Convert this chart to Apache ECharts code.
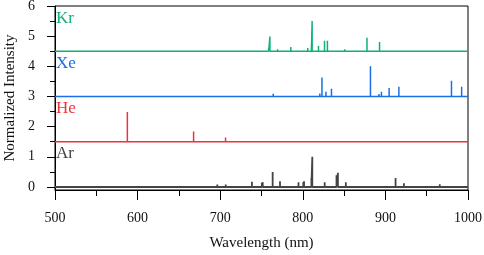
<!DOCTYPE html>
<html>
<head>
<meta charset="utf-8">
<script src="https://cdn.jsdelivr.net/npm/echarts@6/dist/echarts.min.js"></script>
<style>html,body{margin:0;padding:0;background:#fff}#c{width:484px;height:255px}</style>
</head>
<body>
<div id="c"></div>
<script>
const xTicks = [500, 600, 700, 800, 900, 1000];
const yTicks = [0, 1, 2, 3, 4, 5, 6];
const yMinorTicks = [0.5, 1.5, 2.5, 3.5, 4.5, 5.5];

const krOffset = 4.5, xeOffset = 3, heOffset = 1.5, arOffset = 0;

const krLambda = [645, 723, 758.7, 760.2, 769.5, 785.5, 793, 806, 810.4, 811.3, 819.0, 826.3, 829.8, 850.9, 877.7, 892.9, 936, 975.2, 986];
const krHeight = [0.02, 0.02, 0.12, 0.49, 0.07, 0.14, 0.05, 0.11, 0.15, 1.0, 0.17, 0.35, 0.35, 0.07, 0.45, 0.31, 0.02, 0.05, 0.03];

const xeLambda = [688.5, 712.7, 739, 764.2, 788.7, 820.6, 823.2, 828.0, 834.7, 840.9, 881.9, 892.2, 895.2, 904.5, 916.3, 931, 980.0, 992.3];
const xeHeight = [0.02, 0.05, 0.02, 0.09, 0.05, 0.1, 0.63, 0.16, 0.26, 0.04, 1.0, 0.08, 0.16, 0.28, 0.32, 0.02, 0.52, 0.32];

const heLambda = [587.6, 667.8, 706.5, 728.1];
const heHeight = [0.99, 0.34, 0.14, 0.03];

const arLambda = [696.5, 706.7, 727.3, 738.4, 750.4, 751.5, 763.5, 772.4, 794.8, 800.6, 801.5, 810.4, 811.5, 826.5, 840.8, 842.5, 852.1, 866.8, 912.3, 922.4, 935.4, 965.8, 978.5];
const arHeight = [0.08, 0.08, 0.03, 0.17, 0.14, 0.16, 0.5, 0.19, 0.16, 0.16, 0.19, 0.3, 1.0, 0.16, 0.39, 0.47, 0.16, 0.05, 0.3, 0.12, 0.03, 0.09, 0.05];

const gasNames = ['Kr', 'Xe', 'He', 'Ar'];
const labelY = [5.6, 4.1, 2.6, 1.12];

function spectrum(lams, hs, base) {
  const d = [[xTicks[0], base]];
  lams.forEach((l, i) => { d.push([l, base], [l, base + hs[i]], [l, base]); });
  d.push([xTicks[xTicks.length - 1], base]);
  return d;
}

const serif = '"Liberation Serif","Times New Roman",serif';
const colors = {Kr: '#0fb274', Xe: '#1a6ee6', He: '#f0303a', Ar: '#444444'};

function mkSeries(name, lams, hs, base, ly, width) {
  return {
    type: 'line', name: name, data: spectrum(lams, hs, base),
    showSymbol: false, symbol: 'none', animation: false,
    lineStyle: {color: colors[name], width: width},
    markPoint: {
      symbol: 'circle', symbolSize: 0, animation: false,
      data: [{coord: [xTicks[0], ly], name: name}],
      label: {show: true, position: 'right', distance: 1, formatter: '{b}',
        color: colors[name], fontFamily: serif, fontSize: 17}
    }
  };
}

const chart = echarts.init(document.getElementById('c'), null, {renderer: 'canvas'});
chart.setOption({
  animation: false,
  grid: {left: 55, right: 16, top: 6, bottom: 65, show: true, borderColor: '#000', borderWidth: 1,
    containLabel: false, outerBoundsMode: 'none'},
  xAxis: {
    type: 'value', min: xTicks[0], max: xTicks[xTicks.length - 1], interval: 100,
    name: 'Wavelength (nm)', nameLocation: 'middle', nameGap: 46,
    nameTextStyle: {fontFamily: serif, fontSize: 15, color: '#111'},
    axisLine: {show: true, onZero: false, lineStyle: {color: '#000', width: 1}},
    axisTick: {show: true, length: 10, lineStyle: {color: '#000'}},
    minorTick: {show: true, splitNumber: 2, length: 6, lineStyle: {color: '#000'}},
    axisLabel: {fontFamily: serif, fontSize: 14, color: '#111', margin: 21, formatter: v => String(v)},
    splitLine: {show: false}
  },
  yAxis: [{
    type: 'value', min: -0.1, max: 6, position: 'left',
    name: 'Normalized Intensity', nameLocation: 'middle', nameGap: 35,
    nameTextStyle: {fontFamily: serif, fontSize: 15, color: '#111'},
    axisLine: {show: true, lineStyle: {color: '#000', width: 1}},
    axisTick: {show: true, length: 8, customValues: yTicks, lineStyle: {color: '#000'}},
    axisLabel: {show: true, customValues: yTicks, fontFamily: serif, fontSize: 14, color: '#111', margin: 20,
      formatter: v => String(Math.round(v))},
    splitLine: {show: false}
  }, {
    type: 'value', min: -0.1, max: 6, position: 'left',
    axisLine: {show: false},
    axisTick: {show: true, length: 5, customValues: yMinorTicks, lineStyle: {color: '#000'}},
    axisLabel: {show: false},
    splitLine: {show: false}
  }],
  series: [
    mkSeries('Ar', arLambda, arHeight, arOffset, labelY[3], 1.8),
    mkSeries('He', heLambda, heHeight, heOffset, labelY[2], 1.5),
    mkSeries('Xe', xeLambda, xeHeight, xeOffset, labelY[1], 1.5),
    mkSeries('Kr', krLambda, krHeight, krOffset, labelY[0], 1.5)
  ]
});
</script>
</body>
</html>
